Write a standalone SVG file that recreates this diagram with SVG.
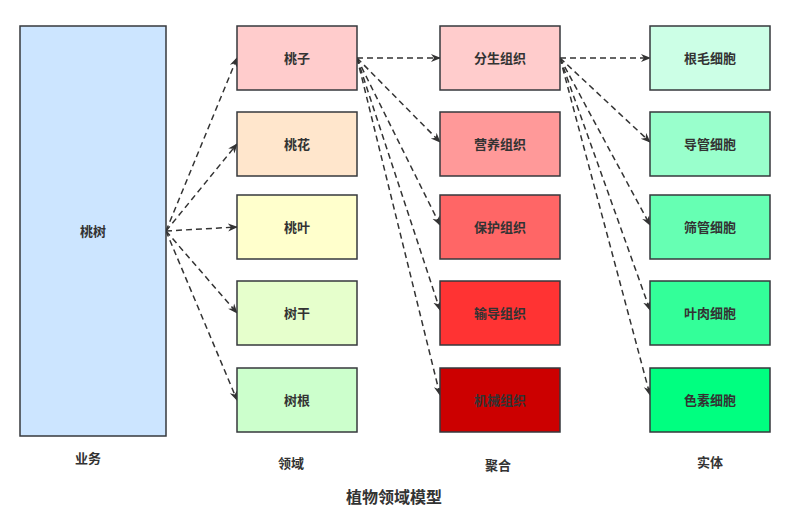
<svg xmlns="http://www.w3.org/2000/svg" width="789" height="508" viewBox="0 0 789 508">
<defs>
<marker id="ah" viewBox="0 0 10 10" refX="9" refY="5" markerWidth="10" markerHeight="10" markerUnits="userSpaceOnUse" orient="auto">
<path d="M0,1 L10,5 L0,9 L3,5 Z" fill="#333"/>
</marker>
<style>
rect{stroke:#36393d;stroke-width:1.5}
text{font-family:"Liberation Sans","Noto Sans CJK SC",sans-serif;font-weight:bold;fill:#333;text-anchor:middle;dominant-baseline:central}
.n{font-size:13px}
.l{font-size:13px}
.t{font-size:16px}
#edges path{fill:none;stroke:#333;stroke-width:1.5;stroke-dasharray:6 4;marker-end:url(#ah)}
</style>
</defs>
<rect width="789" height="508" fill="#fff" style="stroke:none"/>
<g id="edges">
<path d="M166,231 L237,58"/>
<path d="M166,231 L237,144"/>
<path d="M166,231 L237,227"/>
<path d="M166,231 L237,313"/>
<path d="M166,231 L237,400"/>
<path d="M357,58 L440,58"/>
<path d="M357,58 L440,142"/>
<path d="M357,58 L440,225"/>
<path d="M357,58 L440,310"/>
<path d="M357,58 L440,395"/>
<path d="M560,58 L650,58"/>
<path d="M560,58 L650,142"/>
<path d="M560,58 L650,225"/>
<path d="M560,58 L650,310"/>
<path d="M560,58 L650,395"/>
</g>
<g id="n-taoshu"><rect x="20" y="26" width="146" height="410" fill="#cce5ff"/><text class="n" x="93" y="231">桃树</text></g>
<g id="n-taozi"><rect x="237" y="26" width="120" height="64" fill="#ffcccc"/><text class="n" x="297" y="58">桃子</text></g>
<g id="n-taohua"><rect x="237" y="112" width="120" height="64" fill="#ffe6cc"/><text class="n" x="297" y="144">桃花</text></g>
<g id="n-taoye"><rect x="237" y="195" width="120" height="64" fill="#ffffcc"/><text class="n" x="297" y="227">桃叶</text></g>
<g id="n-shugan"><rect x="237" y="281" width="120" height="64" fill="#e6ffcc"/><text class="n" x="297" y="313">树干</text></g>
<g id="n-shugen"><rect x="237" y="368" width="120" height="64" fill="#ccffcc"/><text class="n" x="297" y="400">树根</text></g>
<g id="n-fensheng"><rect x="440" y="26" width="120" height="64" fill="#ffcccc"/><text class="n" x="500" y="58">分生组织</text></g>
<g id="n-yingyang"><rect x="440" y="112" width="120" height="64" fill="#ff9999"/><text class="n" x="500" y="144">营养组织</text></g>
<g id="n-baohu"><rect x="440" y="195" width="120" height="64" fill="#ff6666"/><text class="n" x="500" y="227">保护组织</text></g>
<g id="n-shudao"><rect x="440" y="281" width="120" height="64" fill="#ff3333"/><text class="n" x="500" y="313">输导组织</text></g>
<g id="n-jixie"><rect x="440" y="368" width="120" height="64" fill="#cc0000"/><text class="n" x="500" y="400">机械组织</text></g>
<g id="n-genmao"><rect x="650" y="26" width="120" height="64" fill="#ccffe6"/><text class="n" x="710" y="58">根毛细胞</text></g>
<g id="n-daoguan"><rect x="650" y="112" width="120" height="64" fill="#99ffcc"/><text class="n" x="710" y="144">导管细胞</text></g>
<g id="n-shaiguan"><rect x="650" y="195" width="120" height="64" fill="#66ffb3"/><text class="n" x="710" y="227">筛管细胞</text></g>
<g id="n-yerou"><rect x="650" y="281" width="120" height="64" fill="#33ff99"/><text class="n" x="710" y="313">叶肉细胞</text></g>
<g id="n-sesu"><rect x="650" y="368" width="120" height="64" fill="#00ff80"/><text class="n" x="710" y="400">色素细胞</text></g>
<g id="labels">
<text class="l" x="88" y="458">业务</text>
<text class="l" x="291" y="463">领域</text>
<text class="l" x="498" y="465">聚合</text>
<text class="l" x="710" y="462">实体</text>
<text class="t" x="394" y="497">植物领域模型</text>
</g>
</svg>
